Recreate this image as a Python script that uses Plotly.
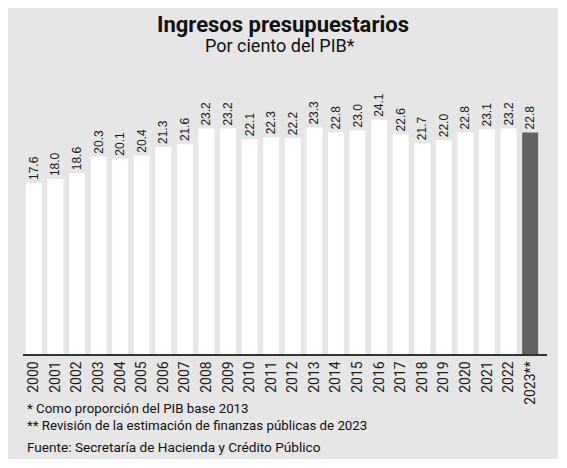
import plotly.graph_objects as go

years = ["2000","2001","2002","2003","2004","2005","2006","2007","2008","2009","2010","2011",
         "2012","2013","2014","2015","2016","2017","2018","2019","2020","2021","2022","2023**"]
values = [17.6,18.0,18.6,20.3,20.1,20.4,21.3,21.6,23.2,23.2,22.1,22.3,
          22.2,23.3,22.8,23.0,24.1,22.6,21.7,22.0,22.8,23.1,23.2,22.8]
title = "Ingresos presupuestarios"
subtitle = "Por ciento del PIB*"
notes = ["* Como proporción del PIB base 2013",
         "** Revisión de la estimación de finanzas públicas de 2023"]
source = "Fuente: Secretaría de Hacienda y Crédito Público"

# The page body has an 8px margin; the figure is sized to fit the window.
OFF = 8
W, H = 567 - OFF, 468 - OFF
L, R, T, B = 23 - OFF, 20, 80 - OFF, 114
PW, PH = W - L - R, H - T - B

def px(x):
    return (x - OFF - L) / PW

def py(y):
    return (H - B - (y - OFF)) / PH

colors = ["#ffffff"] * (len(values) - 1) + ["#626262"]
idx = list(range(len(values)))

fig = go.Figure(go.Bar(
    x=idx, y=values,
    marker=dict(color=colors, line=dict(width=0)),
    text=[f"{v:.1f}" for v in values],
    textposition="outside", textangle=-90,
    constraintext="none",
    textfont=dict(family="Liberation Sans, Arial", size=12, color="#1a1a1a"),
    cliponaxis=False,
    width=0.74,
))

fig.update_layout(
    width=W, height=H,
    autosize=False,
    margin=dict(l=L, r=R, t=T, b=B, pad=0, autoexpand=False),
    paper_bgcolor="#ffffff",
    plot_bgcolor="rgba(0,0,0,0)",
    showlegend=False,
    xaxis=dict(range=[-0.5, 23.78], tickvals=idx, ticktext=years, tickangle=-90,
               automargin=False,
               showline=True, linecolor="#333333", linewidth=1.5, ticks="",
               showgrid=False, zeroline=False,
               tickfont=dict(family="Roboto", size=14, color="#1a1a1a")),
    yaxis=dict(range=[0, 28.2], visible=False, showgrid=False, zeroline=False,
               automargin=False),
    shapes=[dict(type="rect", xref="paper", yref="paper",
                 x0=px(8), x1=px(558), y0=py(459), y1=py(8),
                 fillcolor="#e6e6e6", line=dict(width=0), layer="below")],
    annotations=[
        dict(text=f"<b>{title}</b>", xref="paper", yref="paper", x=px(283), y=py(25),
             xanchor="center", yanchor="middle", showarrow=False,
             font=dict(family="Roboto", size=22, color="#111111")),
        dict(text=subtitle, xref="paper", yref="paper", x=px(280), y=py(45),
             xanchor="center", yanchor="middle", showarrow=False,
             font=dict(family="Roboto", size=18, color="#111111")),
        dict(text=notes[0], xref="paper", yref="paper", x=px(25), y=py(408.5),
             xanchor="left", yanchor="middle", showarrow=False,
             font=dict(family="Roboto", size=13.3, color="#111111")),
        dict(text=notes[1], xref="paper", yref="paper", x=px(25), y=py(425),
             xanchor="left", yanchor="middle", showarrow=False,
             font=dict(family="Roboto", size=13.3, color="#111111")),
        dict(text=source, xref="paper", yref="paper", x=px(25), y=py(447),
             xanchor="left", yanchor="middle", showarrow=False,
             font=dict(family="Roboto", size=13.6, color="#111111")),
    ],
)

fig.write_html("out.html")
